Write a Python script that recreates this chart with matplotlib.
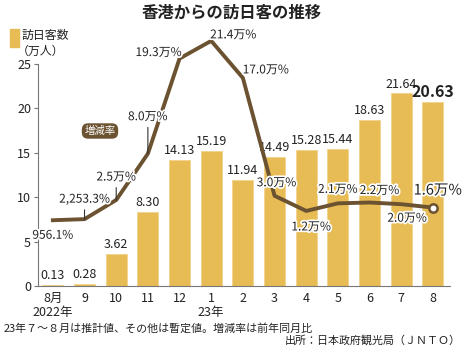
import matplotlib
matplotlib.use("Agg")
import matplotlib.pyplot as plt
import matplotlib.patheffects as pe
from matplotlib.patches import Rectangle
import numpy as np

# monthly visitors from Hong Kong (10k people) and year-on-year change (10k %)
months = ["8月\n2022年", "9", "10", "11", "12", "1\n23年", "2", "3", "4", "5", "6", "7", "8"]
visitors = [0.13, 0.28, 3.62, 8.30, 14.13, 15.19, 11.94, 14.49, 15.28, 15.44, 18.63, 21.64, 20.63]
change = [0.09561, 0.22533, 2.5, 8.0, 19.3, 21.4, 17.0, 3.0, 1.2, 2.1, 2.2, 2.0, 1.6]
change_labels = ["956.1%", "2,253.3%", "2.5万%", "8.0万%", "19.3万%", "21.4万%", "17.0万%",
                 "3.0万%", "1.2万%", "2.1万%", "2.2万%", "2.0万%", "1.6万%"]
visitor_labels = ["%.2f" % v for v in visitors]

# label offsets in pixels (dx, dy) from each line point
offsets = [(0, -15), (0, 20), (0, 23), (0, 37), (-21, 6), (22, 6), (23, 8),
           (2, 13), (5, -16), (0, 14), (10, 12), (6, -14), (5, 17)]
leaders = [1, 2, 3]

BAR = "#e8bc55"
BROWN = "#6b5231"
TXT = "#222222"
NARROW = ["Liberation Sans Narrow", "Noto Sans CJK JP"]
JP = ["Noto Sans CJK JP", "DejaVu Sans"]

fig = plt.figure(figsize=(4.65, 3.49), dpi=100)
ax = fig.add_axes([0.0817, 0.1805, 0.886, 0.7523])

x = np.arange(len(months))
ax.bar(x, visitors, width=0.66, color=BAR, edgecolor="#f2d38c", linewidth=0.6, zorder=2)

ymax = 29.5
ax.set_ylim(0, ymax)
ax.set_xlim(-0.47, 12.54)
ax.set_yticks([0, 5, 10, 15, 20, 25])
ax.spines["left"].set_bounds(0, 25)
for s in ["top", "right"]:
    ax.spines[s].set_visible(False)
for s in ["left", "bottom"]:
    ax.spines[s].set_color("#777777")
    ax.spines[s].set_linewidth(0.8)
ax.tick_params(axis="y", length=3, width=0.8, color="#777777", pad=2, labelcolor=TXT)
ax.tick_params(axis="x", length=0, pad=4, labelcolor=TXT)
ax.set_xticks(x)
ax.set_xticklabels(months, family=NARROW, fontsize=9, linespacing=1.15)
for t in ax.get_yticklabels():
    t.set_family(NARROW)
    t.set_fontsize(9)

# bar value labels
for i, v in enumerate(visitors):
    big = i == len(visitors) - 1
    ax.annotate(visitor_labels[i], (i, v), xytext=(0, 2), textcoords="offset points",
                ha="center", va="bottom", family=NARROW, color=TXT,
                fontsize=11.5 if big else 9, fontweight="bold" if big else "normal", zorder=5)

# growth rate line on a hidden second scale
ax2 = ax.twinx()
base, scale = 7.3, 0.946
ax2.set_ylim((0 - base) / scale, (ymax - base) / scale)
ax2.axis("off")
ax2.plot(x, change, color=BROWN, lw=2.8, zorder=3)
ax2.plot(x[-1], change[-1], "o", ms=6, mfc="white", mec=BROWN, mew=1.8, zorder=4)

halo = [pe.withStroke(linewidth=2.5, foreground="white")]
for i, v in enumerate(change):
    dx, dy = offsets[i]
    big = i == len(change) - 1
    kw = {}
    if i in leaders:
        kw["arrowprops"] = dict(arrowstyle="-", color="#333333", lw=0.8,
                                shrinkA=1, shrinkB=0, relpos=(0.5, 0))
    ax2.annotate(change_labels[i], (i, v), xytext=(dx, dy), textcoords="offset pixels",
                 ha="center", va="center", family=NARROW, color=TXT,
                 fontsize=10.5 if big else 8.6, path_effects=halo, zorder=6, **kw)

# legend and series tag
fig.add_artist(Rectangle((0.0215, 0.865), 0.0194, 0.0516, transform=fig.transFigure,
                         color=BAR))
fig.text(22 / 465, 1 - 35 / 349, "訪日客数", family=JP, fontsize=8.6, va="center", color=TXT)
fig.text(17 / 465, 1 - 51 / 349, "（万人）", family=JP, fontsize=8.6, va="center", color=TXT)
fig.text(100 / 465, 1 - 131 / 349, "増減率", family=JP, fontsize=7.5, color="white",
         ha="center", va="center",
         bbox=dict(boxstyle="round,pad=0.25,rounding_size=0.6", fc=BROWN, ec="none"))

fig.text(232 / 465, 1 - 13 / 349, "香港からの訪日客の推移", family=JP, fontsize=11.8,
         fontweight="bold", ha="center", va="center", color=TXT)
fig.text(4 / 465, 1 - 328 / 349, "23年７～８月は推計値、その他は暫定値。増減率は前年同月比",
         family=JP, fontsize=7.9, va="center", color=TXT)
fig.text(461 / 465, 1 - 340 / 349, "出所：日本政府観光局（ＪＮＴＯ）",
         family=JP, fontsize=7.9, va="center", ha="right", color=TXT)

fig.savefig("out.png", dpi=100)
